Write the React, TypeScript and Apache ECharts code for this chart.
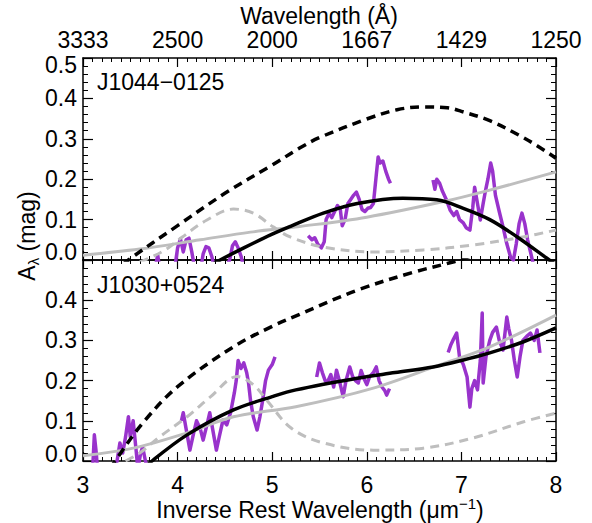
import React, { useEffect, useRef } from 'react';
import * as echarts from 'echarts';

const FONT = '"Liberation Sans", Arial, Helvetica, sans-serif';

// Tick labels
const xBottomLabels = ['3', '4', '5', '6', '7', '8'];
const xTopLabels = ['3333', '2500', '2000', '1667', '1429', '1250'];
const yLabels = ['0.0', '0.1', '0.2', '0.3', '0.4', '0.5'];

// ---------- Top panel: J1044-0125 ----------
const topDataSeg1 = [
  [3.72, -0.04], [3.77, -0.01], [3.79, 0.012], [3.81, -0.02], [3.9, -0.05], [3.97, -0.02],
  [4.0, 0.03], [4.03, 0.052], [4.06, 0.02], [4.09, 0.05], [4.12, 0.054], [4.15, 0.02],
  [4.18, -0.02], [4.24, -0.03], [4.27, 0.015], [4.3, 0.033], [4.33, 0.03], [4.36, 0.01],
  [4.39, -0.02], [4.48, -0.03], [4.55, 0.0], [4.58, 0.035], [4.61, 0.045], [4.64, 0.03],
  [4.67, 0.01], [4.7, -0.02],
];
const topDataSeg2 = [
  [5.38, 0.06], [5.42, 0.05], [5.45, 0.055], [5.48, 0.04], [5.52, 0.03], [5.55, 0.045],
  [5.57, 0.1], [5.6, 0.115], [5.63, 0.105], [5.66, 0.12], [5.69, 0.135], [5.72, 0.125],
  [5.74, 0.085], [5.77, 0.1], [5.8, 0.14], [5.83, 0.15], [5.86, 0.16], [5.89, 0.168],
  [5.92, 0.15], [5.95, 0.125], [5.98, 0.12], [6.01, 0.128], [6.04, 0.13], [6.07, 0.14],
  [6.1, 0.21], [6.12, 0.255], [6.14, 0.24], [6.17, 0.245], [6.2, 0.22], [6.23, 0.2], [6.25, 0.19],
];
const topDataSeg3 = [
  [6.7, 0.198], [6.72, 0.175], [6.74, 0.2], [6.77, 0.19], [6.8, 0.17], [6.84, 0.15],
  [6.88, 0.124], [6.92, 0.11], [6.95, 0.12], [6.98, 0.1], [7.02, 0.092], [7.05, 0.08],
  [7.09, 0.074], [7.12, 0.13], [7.14, 0.18], [7.17, 0.14], [7.2, 0.099], [7.23, 0.14],
  [7.25, 0.166], [7.28, 0.2], [7.31, 0.24], [7.33, 0.22], [7.36, 0.16], [7.4, 0.12],
  [7.44, 0.082], [7.48, 0.04], [7.52, 0.007], [7.55, 0.0], [7.58, 0.04], [7.61, 0.09],
  [7.64, 0.116], [7.67, 0.09], [7.7, 0.05], [7.73, 0.02], [7.76, -0.01], [7.8, -0.03],
];
const topBlackDashed = [
  [3.3, -0.035], [3.48, 0], [4.0, 0.085], [4.5, 0.165], [5.0, 0.235], [5.29, 0.277],
  [5.5, 0.303], [6.0, 0.349], [6.32, 0.372], [6.6, 0.379], [6.85, 0.377], [7.0, 0.368],
  [7.3, 0.345], [7.6, 0.31], [7.8, 0.283], [8.0, 0.252],
];
const topBlackSolid = [
  [4.3, -0.02], [4.45, 0], [4.7, 0.03], [5.0, 0.064], [5.2, 0.084], [5.54, 0.116],
  [5.9, 0.14], [6.38, 0.153], [6.74, 0.149], [7.02, 0.128], [7.3, 0.1], [7.59, 0.057],
  [7.9, 0.005], [8.0, -0.012],
];
const topGreySolid = [
  [3.0, 0.012], [3.6, 0.027], [4.24, 0.05], [4.77, 0.069], [5.29, 0.083], [6.0, 0.106],
  [6.8, 0.144], [7.3, 0.173], [8.0, 0.218],
];
const topGreyDashed = [
  [3.6, -0.005], [3.75, 0.01], [3.9, 0.03], [4.05, 0.057], [4.31, 0.099], [4.59, 0.126],
  [4.8, 0.116], [5.01, 0.082], [5.19, 0.057], [5.54, 0.032], [6.07, 0.02], [6.6, 0.025],
  [7.12, 0.037], [7.65, 0.057], [8.0, 0.074],
];

// ---------- Bottom panel: J1030+0524 ----------
const botDataSegA = [
  [3.1, -0.03], [3.12, 0.065], [3.14, 0.02], [3.16, -0.04], [3.3, -0.05], [3.36, 0.0],
  [3.39, 0.045], [3.42, 0.02], [3.45, 0.06], [3.48, 0.11], [3.5, 0.06], [3.53, 0.1],
  [3.56, 0.03], [3.58, -0.02], [3.61, 0.02], [3.63, 0.035], [3.66, 0.0], [3.7, -0.03],
];
const botDataSegB = [
  [4.04, 0.1], [4.06, 0.12], [4.09, 0.08], [4.13, 0.027], [4.17, 0.07], [4.2, 0.1],
  [4.24, 0.08], [4.27, 0.052], [4.31, 0.09], [4.34, 0.12], [4.37, 0.08], [4.41, 0.027],
  [4.44, 0.06], [4.48, 0.102], [4.52, 0.09], [4.56, 0.12], [4.6, 0.17], [4.62, 0.2],
  [4.64, 0.25], [4.67, 0.23], [4.7, 0.244], [4.73, 0.22], [4.75, 0.194], [4.77, 0.152],
  [4.8, 0.11], [4.84, 0.077], [4.87, 0.11], [4.9, 0.152], [4.93, 0.2], [4.96, 0.226],
  [5.0, 0.24], [5.03, 0.259],
];
const botDataSegC = [
  [5.47, 0.209], [5.5, 0.244], [5.53, 0.22], [5.56, 0.2], [5.58, 0.194], [5.62, 0.215],
  [5.65, 0.184], [5.68, 0.226], [5.71, 0.2], [5.75, 0.16], [5.78, 0.2], [5.82, 0.234],
  [5.85, 0.21], [5.88, 0.2], [5.91, 0.194], [5.94, 0.225], [5.97, 0.205], [6.0, 0.19],
  [6.03, 0.21], [6.07, 0.22], [6.1, 0.234], [6.13, 0.2], [6.16, 0.184], [6.19, 0.175],
  [6.21, 0.164], [6.24, 0.18],
];
const botDataSegD = [
  [6.86, 0.27], [6.89, 0.29], [6.91, 0.3], [6.95, 0.318], [6.98, 0.259], [7.02, 0.24],
  [7.06, 0.209], [7.09, 0.134], [7.11, 0.18], [7.14, 0.2], [7.17, 0.177], [7.2, 0.25],
  [7.22, 0.368], [7.23, 0.194], [7.26, 0.26], [7.3, 0.3], [7.33, 0.32], [7.37, 0.333],
  [7.4, 0.3], [7.44, 0.276], [7.48, 0.358], [7.5, 0.33], [7.53, 0.3], [7.56, 0.25],
  [7.59, 0.209], [7.62, 0.26], [7.65, 0.3], [7.69, 0.31], [7.73, 0.318], [7.77, 0.3],
  [7.8, 0.326], [7.83, 0.269],
];
const botBlackDashed = [
  [3.2, -0.05], [3.34, 0], [3.63, 0.094], [4.0, 0.185], [4.59, 0.284], [5.0, 0.335],
  [5.29, 0.365], [5.9, 0.425], [6.5, 0.47], [6.91, 0.495], [7.1, 0.51],
];
const botBlackSolid = [
  [3.6, -0.03], [3.73, 0], [4.1, 0.065], [4.59, 0.127], [5.0, 0.16], [5.25, 0.177],
  [5.9, 0.206], [6.3, 0.22], [6.7, 0.234], [7.0, 0.25], [7.3, 0.269], [7.65, 0.296], [8.0, 0.331],
];
const botGreySolid = [
  [3.0, 0.013], [3.53, 0.032], [4.1, 0.07], [4.59, 0.11], [5.25, 0.135], [6.05, 0.18],
  [6.77, 0.239], [7.3, 0.284], [8.0, 0.363],
];
const botGreyDashed = [
  [3.45, 0], [3.6, 0.02], [3.81, 0.06], [4.1, 0.11], [4.35, 0.16], [4.63, 0.21],
  [4.8, 0.19], [4.94, 0.152], [5.2, 0.082], [5.54, 0.045], [6.07, 0.027], [6.6, 0.032],
  [7.12, 0.057], [7.65, 0.097], [8.0, 0.119],
];

const PURPLE = '#9933CC';
const GREY = '#BEBEBE';

const axisLineStyle = { color: '#000', width: 1.5 };

function mkX(grid: number, position: string, showLabels: boolean, labels: string[], margin: number) {
  return {
    type: 'value', gridIndex: grid, position, min: 3, max: 8, interval: 1,
    axisLine: { show: true, onZero: false, lineStyle: axisLineStyle },
    axisTick: { show: true, inside: true, length: 9, lineStyle: { color: '#000', width: 1.2 } },
    minorTick: { show: true, splitNumber: 10, length: 4, lineStyle: { color: '#000', width: 1 } },
    splitLine: { show: false }, minorSplitLine: { show: false },
    axisLabel: {
      show: showLabels, margin, fontSize: 23, lineHeight: 23, color: '#000', fontFamily: FONT,
      showMinLabel: true, showMaxLabel: true,
      formatter: (v: number) => labels[Math.round(v - 3)] ?? '',
    },
  };
}

function mkY(grid: number, position: string, showLabels: boolean, showMax: boolean, loShift: number, hiShift: number) {
  const base = { fontSize: 23, lineHeight: 23, color: '#000', fontFamily: FONT };
  return {
    type: 'value', gridIndex: grid, position, min: 0, max: 0.5, interval: 0.1,
    axisLine: { show: true, onZero: false, lineStyle: axisLineStyle },
    axisTick: { show: true, inside: true, length: 10, lineStyle: { color: '#000', width: 1.2 } },
    minorTick: { show: true, splitNumber: 5, length: 5, lineStyle: { color: '#000', width: 1 } },
    splitLine: { show: false }, minorSplitLine: { show: false },
    axisLabel: {
      show: showLabels, margin: 6, ...base,
      showMinLabel: true, showMaxLabel: showMax,
      formatter: (v: number) => {
        const i = Math.round(v * 10);
        const s = yLabels[i] ?? '';
        if (i === 0) return '{lo|' + s + '}';
        if (i === 5) return '{hi|' + s + '}';
        return s;
      },
      rich: {
        lo: { ...base, padding: [0, 0, loShift * 2, 0] },
        hi: { ...base, padding: [hiShift * 2, 0, 0, 0] },
      },
    },
  };
}

function line(data: number[][], xi: number, yi: number, color: string, width: number, dashed: boolean, smooth: boolean, z: number) {
  return {
    type: 'line', data, xAxisIndex: xi, yAxisIndex: yi, showSymbol: false, symbol: 'none',
    smooth: smooth ? 0.35 : false, clip: true, z,
    lineStyle: { color, width, type: dashed ? [9, 6] : 'solid', join: 'round' },
  };
}

export default function App() {
  const ref = useRef<HTMLDivElement>(null);
  useEffect(() => {
    if (!ref.current) return;
    const chart = echarts.init(ref.current, undefined, { renderer: 'svg' });
    const option: any = {
      animation: false,
      backgroundColor: '#fff',
      grid: [
        { left: 83, top: 58, width: 473, height: 202, outerBoundsMode: 'none' },
        { left: 83, top: 260, width: 473, height: 201, outerBoundsMode: 'none' },
      ],
      xAxis: [
        mkX(0, 'bottom', false, xBottomLabels, 10),
        mkX(0, 'top', true, xTopLabels, 7),
        mkX(1, 'bottom', true, xBottomLabels, 12),
        mkX(1, 'top', false, xBottomLabels, 10),
      ],
      yAxis: [
        mkY(0, 'left', true, true, 8, 7),
        mkY(0, 'right', false, true, 0, 0),
        mkY(1, 'left', true, false, 7, 0),
        mkY(1, 'right', false, false, 0, 0),
      ],
      series: [
        line(topDataSeg1, 0, 0, PURPLE, 3.5, false, false, 2),
        line(topDataSeg2, 0, 0, PURPLE, 3.5, false, false, 2),
        line(topDataSeg3, 0, 0, PURPLE, 3.5, false, false, 2),
        line(topGreyDashed, 0, 0, GREY, 3, true, true, 3),
        line(topGreySolid, 0, 0, GREY, 3, false, true, 3),
        line(topBlackDashed, 0, 0, '#000', 3.5, true, true, 4),
        line(topBlackSolid, 0, 0, '#000', 3.5, false, true, 4),
        line(botDataSegA, 2, 2, PURPLE, 3.5, false, false, 2),
        line(botDataSegB, 2, 2, PURPLE, 3.5, false, false, 2),
        line(botDataSegC, 2, 2, PURPLE, 3.5, false, false, 2),
        line(botDataSegD, 2, 2, PURPLE, 3.5, false, false, 2),
        line(botGreyDashed, 2, 2, GREY, 3, true, true, 3),
        line(botGreySolid, 2, 2, GREY, 3, false, true, 3),
        line(botBlackDashed, 2, 2, '#000', 3.5, true, true, 4),
        line(botBlackSolid, 2, 2, '#000', 3.5, false, true, 4),
      ],
      graphic: [
        {
          type: 'text', x: 319, y: 16, z: 10,
          style: { text: 'Wavelength (Å)', fontSize: 23, lineHeight: 22, fontFamily: FONT, fill: '#000', align: 'center', verticalAlign: 'middle', textAlign: 'center', textVerticalAlign: 'middle' },
        },
        {
          type: 'text', x: 320, y: 510, z: 10,
          style: {
            text: '{a|Inverse Rest Wavelength (μm}{s|−1}{a|)}',
            rich: {
              a: { fontSize: 23, fontFamily: FONT, fill: '#000', color: '#000', lineHeight: 28 },
              s: { fontSize: 15, fontFamily: FONT, fill: '#000', color: '#000', lineHeight: 15, verticalAlign: 'top' },
            },
            align: 'center', verticalAlign: 'middle', textAlign: 'center', textVerticalAlign: 'middle',
          },
        },
        {
          type: 'text', x: 27, y: 236, rotation: Math.PI / 2, z: 10,
          style: {
            text: '{a|A}{s|λ}{a| (mag)}',
            rich: {
              a: { fontSize: 23, fontFamily: FONT, fill: '#000', color: '#000', lineHeight: 28 },
              s: { fontSize: 15, fontFamily: FONT, fill: '#000', color: '#000', lineHeight: 15, verticalAlign: 'bottom' },
            },
            align: 'center', verticalAlign: 'middle', textAlign: 'center', textVerticalAlign: 'middle',
          },
        },
        {
          type: 'text', x: 97, y: 82, z: 10,
          style: { text: 'J1044−0125', fontSize: 23, fontFamily: FONT, fill: '#000', align: 'left', verticalAlign: 'middle', textAlign: 'left', textVerticalAlign: 'middle' },
        },
        {
          type: 'text', x: 97, y: 285, z: 10,
          style: { text: 'J1030+0524', fontSize: 23, fontFamily: FONT, fill: '#000', align: 'left', verticalAlign: 'middle', textAlign: 'left', textVerticalAlign: 'middle' },
        },
      ],
    };
    chart.setOption(option);
    return () => chart.dispose();
  }, []);
  return <div ref={ref} style={{ position: 'absolute', left: 0, top: 0, width: 592, height: 523 }} />;
}
